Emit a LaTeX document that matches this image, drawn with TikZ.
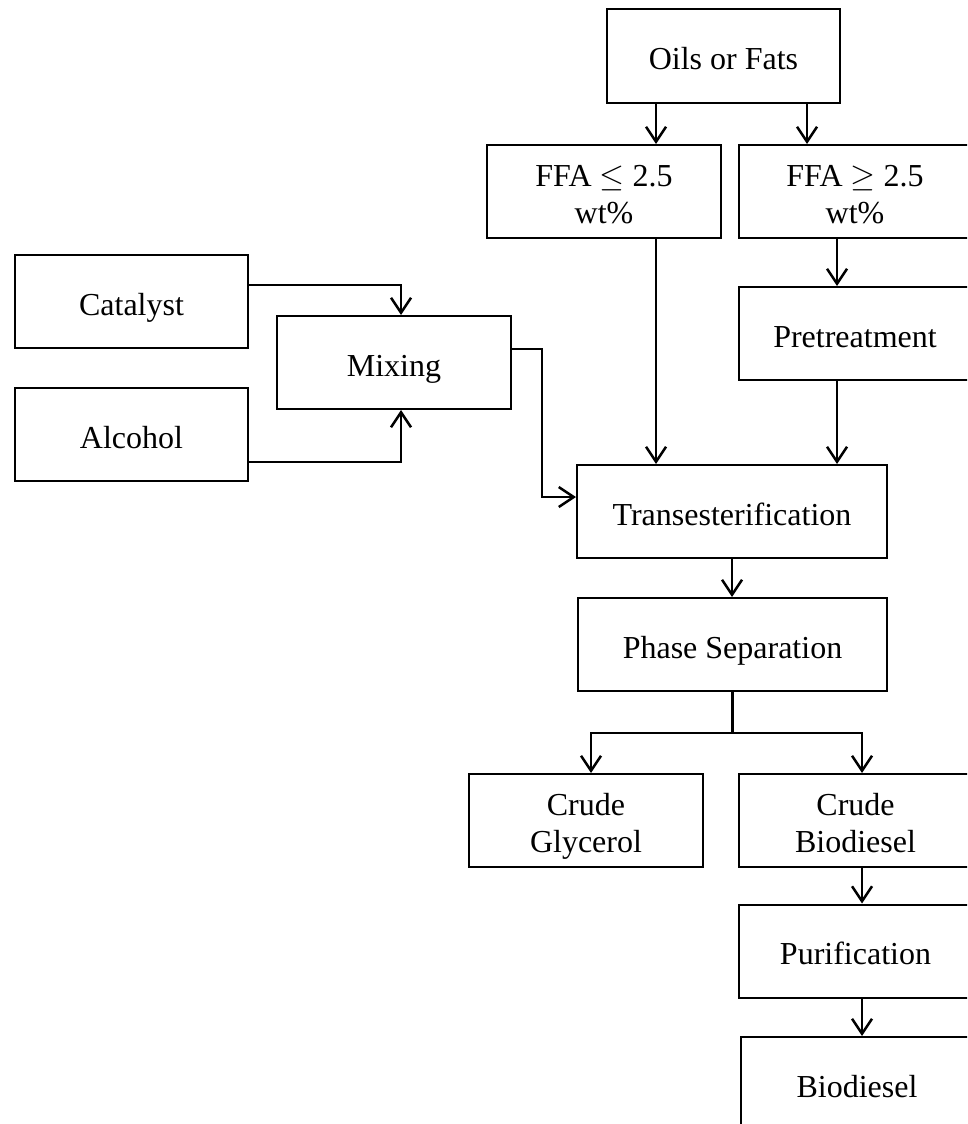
\documentclass[tikz,border=0pt]{standalone}
\usepackage{graphicx}
\usepackage{fontspec}
\setmainfont{Liberation Serif}
\usetikzlibrary{arrows.meta}
\usetikzlibrary{calc}
\newcommand{\topstrut}{\rule{0pt}{38pt}}
\newcommand{\botstrut}{\rule[-11pt]{0pt}{1pt}}
\newcommand{\lesym}{\scalebox{1.29}{$\leq$}}
\newcommand{\gesym}{\scalebox{1.29}{$\geq$}}
\tikzstyle{stage}=[draw, line width=2pt, minimum height=93pt, inner sep=0pt, align=center, font=\fontsize{32}{37}\selectfont]
\tikzstyle{flow}=[draw, line width=2.5pt, -{Straight Barb[length=15pt,width=20pt]}]
\tikzstyle{link}=[draw, line width=2.5pt]

\begin{document}
\begin{tikzpicture}[x=1pt, y=-1pt]
    \useasboundingbox (0,0) rectangle (967,1124);
    \clip (0,0) rectangle (967,1124);

    % process stages
    \foreach \pos/\name/\w/\txt in {{(723.5,56)/oils/233/Oils or Fats}, {(604,191.5)/ffaLow/234/{FFA \lesym{} 2.5\\wt\%}},
        {(855,191.5)/ffaHigh/232/{FFA \gesym{} 2.5\\wt\%}}, {(131.5,301.5)/catalyst/233/Catalyst}, {(394,362.5)/mixing/234/Mixing},
        {(131.5,434.5)/alcohol/233/Alcohol}, {(855,333.5)/pretreat/232/Pretreatment}, {(732,511.5)/trans/310/Transesterification},
        {(732.5,644.5)/phase/309/Phase Separation}, {(586,820.5)/glycerol/234/{Crude\\Glycerol}},
        {(855.5,820.5)/crudeBio/233/{Crude\\Biodiesel}}, {(855.5,951)/purif/233/Purification}, {(857,1083.5)/biodiesel/232/Biodiesel}}
        \node[stage, minimum width=\w pt] (\name) at \pos {\topstrut\txt\botstrut};

    % feed split
    \draw[flow] ([xshift=-67.5pt]oils.south) -- ([xshift=-67.5pt]oils.south |- ffaLow.north);
    \draw[flow] ([xshift=83.5pt]oils.south) -- ([xshift=83.5pt]oils.south |- ffaHigh.north);
    \draw[flow] ([xshift=52pt]ffaLow.south) -- ([xshift=52pt]ffaLow.south |- trans.north);
    \draw[flow] ([xshift=-18pt]ffaHigh.south) -- ([xshift=-18pt]ffaHigh.south |- pretreat.north);
    \draw[flow] ([xshift=-18pt]pretreat.south) -- ([xshift=-18pt]pretreat.south |- trans.north);

    % catalyst and alcohol
    \draw[flow] ([yshift=16.5pt]catalyst.east) -| ([xshift=7pt]mixing.north);
    \draw[flow] ([yshift=-27.5pt]alcohol.east) -| ([xshift=7pt]mixing.south);
    \draw[flow] ([yshift=13.5pt]mixing.east) -- ++(30pt,0pt) |- ([yshift=14.5pt]trans.west);

    % products
    \draw[flow] (trans.south) -- (trans.south |- phase.north);
    \draw[link] (phase.south) -- ++(0pt,-41pt) coordinate (split);
    \draw[flow] (split) -| ([xshift=5pt]glycerol.north);
    \draw[flow] (split) -| ([xshift=6.5pt]crudeBio.north);
    \draw[flow] ([xshift=6.5pt]crudeBio.south) -- ([xshift=6.5pt]crudeBio.south |- purif.north);
    \draw[flow] ([xshift=6.5pt]purif.south) -- ([xshift=6.5pt]purif.south |- biodiesel.north);
\end{tikzpicture}
\end{document}
